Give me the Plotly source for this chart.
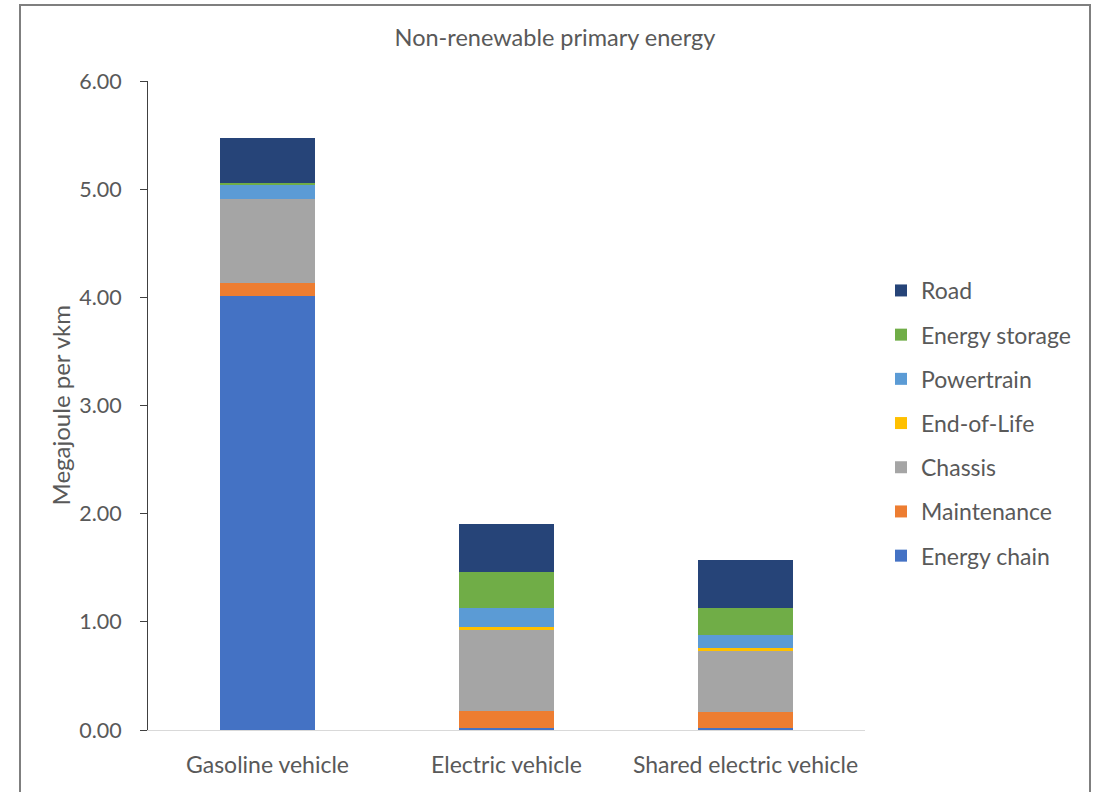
import plotly.graph_objects as go

# Vehicle categories and per-component non-renewable primary energy (MJ per vkm)
categories = ["Gasoline vehicle", "Electric vehicle", "Shared electric vehicle"]

energy_chain = [4.01, 0.02, 0.02]
maintenance = [0.12, 0.155, 0.15]
chassis = [0.78, 0.75, 0.565]
end_of_life = [0.002, 0.025, 0.025]
powertrain = [0.135, 0.18, 0.12]
energy_storage = [0.01, 0.33, 0.25]
road = [0.42, 0.44, 0.44]

y_ticks = [0, 1, 2, 3, 4, 5, 6]
y_tick_labels = ["0.00", "1.00", "2.00", "3.00", "4.00", "5.00", "6.00"]

series = [
    ("Energy chain", energy_chain, "#4472C4"),
    ("Maintenance", maintenance, "#ED7D31"),
    ("Chassis", chassis, "#A5A5A5"),
    ("End-of-Life", end_of_life, "#FFC000"),
    ("Powertrain", powertrain, "#5B9BD5"),
    ("Energy storage", energy_storage, "#70AD47"),
    ("Road", road, "#264478"),
]

FONT = "Lato"
TEXT = "#595959"

fig = go.Figure()
n = len(series)
for i, (name, vals, color) in enumerate(series):
    fig.add_trace(go.Bar(
        x=categories, y=vals, name=name, legendgroup=name,
        legendrank=n - i,  # top stack segment listed first
        marker=dict(color=color, line=dict(width=0)),
    ))

W, H = 1099, 792
L, R, T, B = 148, 234, 81, 62
pw, ph = W - L - R, H - T - B

fig.update_layout(
    width=W, height=H,
    margin=dict(l=L, r=R, t=T, b=B, autoexpand=False),
    paper_bgcolor="white", plot_bgcolor="white",
    barmode="stack", bargap=0.6,
    font=dict(family=FONT, size=23, color=TEXT),
    title=dict(text="Non-renewable primary energy", x=555 / W, xanchor="center",
               y=1 - 38 / H, yanchor="middle",
               font=dict(family=FONT, size=23.5, color=TEXT)),
    showlegend=True,
    legend=dict(
        traceorder="grouped", tracegroupgap=11.3,
        x=(881 - L) / pw, xanchor="left",
        y=(H - B - 269) / ph, yanchor="top",
        font=dict(family=FONT, size=23, color=TEXT),
        bgcolor="rgba(0,0,0,0)",
    ),
    xaxis=dict(
        showline=True, linecolor="#D9D9D9", linewidth=1,
        ticks="", showgrid=False, ticklabelstandoff=14,
        tickfont=dict(family=FONT, size=23, color=TEXT),
    ),
    yaxis=dict(
        range=[0, 6], tickvals=y_ticks, ticktext=y_tick_labels,
        showline=True, linecolor="#404040", linewidth=1,
        ticks="outside", ticklen=7, tickcolor="#404040",
        showgrid=False, zeroline=False, ticklabelstandoff=14,
        tickfont=dict(family=FONT, size=21.5, color=TEXT),
    ),
    annotations=[dict(
        text="Megajoule per vkm", textangle=-90,
        xref="paper", yref="paper", x=0, y=0.5,
        xanchor="center", yanchor="middle", xshift=-(L - 60),
        showarrow=False, font=dict(family=FONT, size=24, color=TEXT),
    )],
    shapes=[dict(
        type="rect", xref="paper", yref="paper",
        x0=(20 - L) / pw, x1=(1090 - L) / pw,
        y0=(H - B - 820) / ph, y1=(H - B - 5) / ph,
        line=dict(color="#7F7F7F", width=2), fillcolor="rgba(0,0,0,0)",
        layer="below",
    )],
)

fig.write_html("out.html")
